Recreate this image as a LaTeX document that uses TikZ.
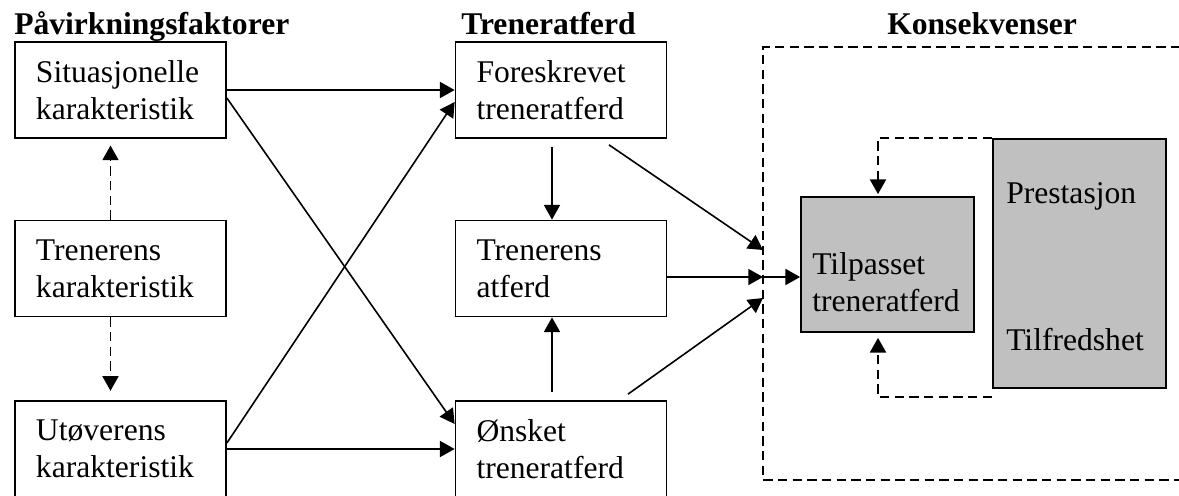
\documentclass[tikz,border=0pt]{standalone}
\usepackage{fontspec}
\setmainfont{Liberation Serif}
\usetikzlibrary{arrows.meta}
\usetikzlibrary{calc}
\definecolor{graa}{RGB}{192,192,192}

\tikzset{
  boks/.style={draw, line width=1.3pt, minimum width=158.25pt, minimum height=72pt, text width=126.75pt, inner xsep=15.75pt, align=left, font=\fontsize{23.7}{27.75}\selectfont},
  graaboks/.style={draw, line width=1.3pt, fill=graa, inner sep=0pt},
  tekst/.style={anchor=base west, inner sep=0pt, font=\fontsize{23.7}{27.75}\selectfont},
  overskrift/.style={tekst, font=\fontsize{23.7}{27.75}\selectfont\bfseries},
  pil/.style={line width=1.2pt, -{Triangle[length=11pt,width=12pt]}},
  stiplet/.style={pil, line width=1.4pt, dash pattern=on 7pt off 4pt},
}

\begin{document}
\begin{tikzpicture}[x=0.75pt,y=0.75pt,yscale=-1,xscale=1]
\useasboundingbox (0,0) rectangle (1179,496);

% Text Node
\node [overskrift] (hpaav) at (14,34) {Påvirkningsfaktorer};
% Text Node
\node [overskrift] (htren) at (461,34) {Treneratferd};
% Text Node
\node [overskrift] (hkons) at (887,34) {Konsekvenser};

%Shape: Rectangle
\node [boks] (sit) at (120.5,90) {Situasjonelle\\karakteristik};
%Shape: Rectangle
\node [boks] (tren) at (120.5,268.5) {Trenerens\\karakteristik};
%Shape: Rectangle
\node [boks] (utov) at (120.5,449) {Utøverens\\karakteristik};

%Shape: Rectangle
\node [boks] (fore) at (561,90) {Foreskrevet\\treneratferd};
%Shape: Rectangle
\node [boks] (tatf) at (561,268.5) {Trenerens\\atferd};
%Shape: Rectangle
\node [boks] (onsk) at (561,449) {Ønsket\\treneratferd};

%Shape: Dashed frame
\draw [line width=1.4pt, dash pattern=on 7pt off 4pt] (1195,47) -- (763,47) -- (763,480) -- (1195,480);
\coordinate (kinA) at (763,250);
\coordinate (kinB) at (763,277);
\coordinate (kinC) at (763,298);

%Shape: Rectangle
\node [graaboks, minimum width=129.75pt, minimum height=101.25pt] (tilp) at (887.5,264.5) {};
%Shape: Rectangle
\node [graaboks, minimum width=129.75pt, minimum height=186.75pt] (kons) at (1079.5,263.5) {};
% Text Node
\node [tekst] (tilptxt) at (812,274) {Tilpasset};
\node [tekst] (tilptxtb) at (812,311) {treneratferd};
% Text Node
\node [tekst] (prest) at (1006,203) {Prestasjon};
\node [tekst] (tilfr) at (1006,350) {Tilfredshet};

% Arrows
\draw [stiplet, shorten >=5pt] ($(tren.north)+(-10,0)$) -- ($(sit.south)+(-10,0)$);
\draw [stiplet, shorten >=7pt] ($(tren.south)+(-10,0)$) -- ($(utov.north)+(-10,0)$);
\draw [pil] (sit.east) -- (fore.west);
\draw [pil] ($(sit.east)+(0,8)$) -- ($(onsk.west)+(0,-25)$);
\draw [pil] ($(utov.east)+(0,-6)$) -- ($(fore.west)+(0,12)$);
\draw [pil] (utov.east) -- (onsk.west |- utov.east);
\draw [pil, shorten <=6pt] ($(fore.south)+(-9,0)$) -- ($(tatf.north)+(-9,0)$);
\draw [pil, shorten <=6pt] ($(onsk.north)+(-9,0)$) -- ($(tatf.south)+(-9,0)$);
\draw [pil] ($(fore.south)+(48,6)$) -- (kinA);
\draw [pil] (tatf.east |- kinB) -- (kinB);
\draw [pil] ($(onsk.north)+(67,-6)$) -- (kinC);
\draw [pil] (kinB) -- (kinB -| tilp.west);
\draw [stiplet] (kons.north west) -| ($(tilp.north)+(-9.5,-2)$);
\draw [stiplet] ($(kons.south west)+(0,8)$) -| ($(tilp.south)+(-9.5,5)$);

\end{tikzpicture}
\end{document}
